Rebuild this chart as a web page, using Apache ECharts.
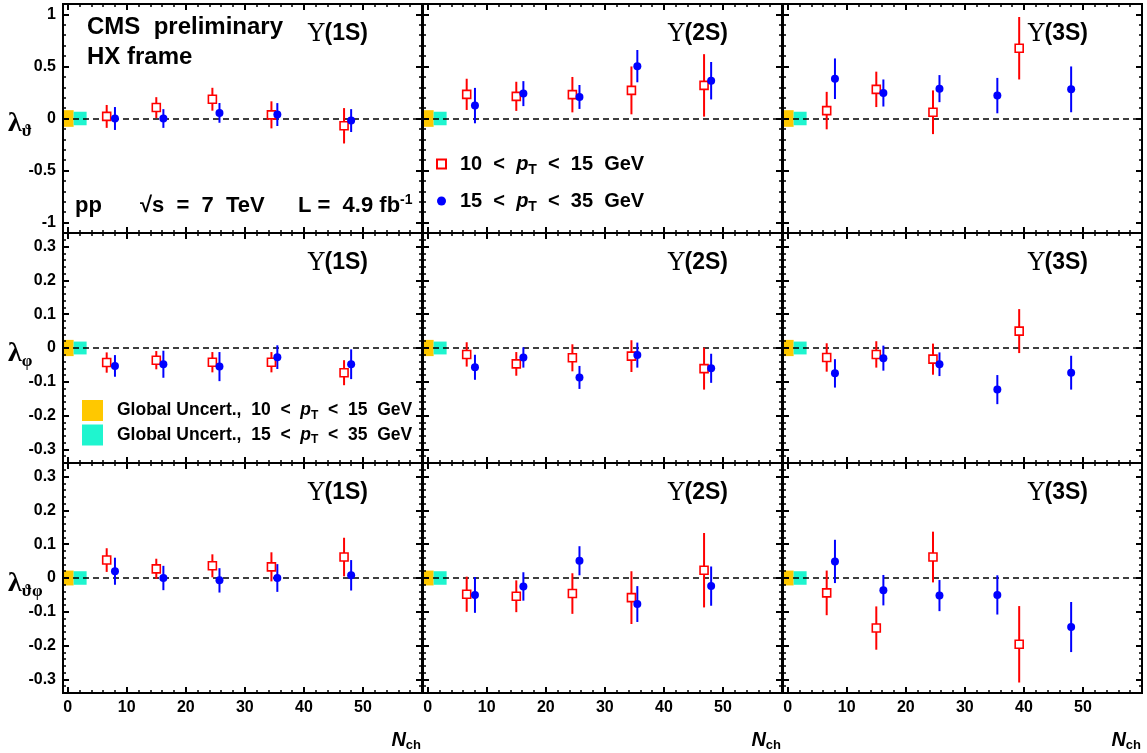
<!DOCTYPE html>
<html>
<head>
<meta charset="utf-8">
<script src="https://cdn.jsdelivr.net/npm/echarts@6/dist/echarts.min.js"></script>
<style>
  html, body { margin: 0; padding: 0; background: #fff; }
  #chart { width: 1147px; height: 753px; }
</style>
</head>
<body>
<div id="chart"></div>
<script>
// N_ch of the points (3S low-pT: last two bins merged)
const redX = [6.6, 15.0, 24.5, 34.5, 46.8];
const redX3S = [6.6, 15.0, 24.6, 39.2];
const blueX = [8.0, 16.2, 25.7, 35.5, 48.0];

// [value, error]
const lthRed1S = [[0.02, 0.11], [0.105, 0.10], [0.185, 0.11], [0.035, 0.13], [-0.07, 0.17]];
const lthBlue1S = [[0.0, 0.11], [0.0, 0.09], [0.054, 0.095], [0.038, 0.11], [-0.02, 0.11]];
const lthRed2S = [[0.232, 0.15], [0.213, 0.14], [0.229, 0.17], [0.27, 0.23], [0.318, 0.30]];
const lthBlue2S = [[0.124, 0.17], [0.239, 0.12], [0.207, 0.115], [0.503, 0.155], [0.363, 0.18]];
const lthRed3S = [[0.076, 0.18], [0.28, 0.17], [0.06, 0.21], [0.675, 0.30]];
const lthBlue3S = [[0.382, 0.195], [0.245, 0.13], [0.287, 0.13], [0.22, 0.17], [0.28, 0.22]];

const lphRed1S = [[-0.043, 0.03], [-0.036, 0.027], [-0.042, 0.03], [-0.042, 0.03], [-0.073, 0.037]];
const lphBlue1S = [[-0.053, 0.032], [-0.048, 0.04], [-0.055, 0.043], [-0.027, 0.035], [-0.048, 0.044]];
const lphRed2S = [[-0.019, 0.036], [-0.047, 0.035], [-0.029, 0.04], [-0.024, 0.047], [-0.061, 0.062]];
const lphBlue2S = [[-0.057, 0.037], [-0.028, 0.03], [-0.087, 0.034], [-0.021, 0.037], [-0.06, 0.043]];
const lphRed3S = [[-0.028, 0.042], [-0.019, 0.039], [-0.033, 0.046], [0.05, 0.065]];
const lphBlue3S = [[-0.075, 0.042], [-0.03, 0.037], [-0.048, 0.035], [-0.123, 0.043], [-0.073, 0.05]];

const ltpRed1S = [[0.053, 0.035], [0.027, 0.03], [0.036, 0.034], [0.033, 0.043], [0.062, 0.057]];
const ltpBlue1S = [[0.02, 0.04], [0.0, 0.036], [-0.007, 0.036], [0.0, 0.041], [0.008, 0.045]];
const ltpRed2S = [[-0.048, 0.052], [-0.054, 0.047], [-0.046, 0.06], [-0.058, 0.078], [0.023, 0.11]];
const ltpBlue2S = [[-0.05, 0.053], [-0.025, 0.042], [0.051, 0.043], [-0.077, 0.053], [-0.024, 0.058]];
const ltpRed3S = [[-0.044, 0.066], [-0.148, 0.064], [0.062, 0.075], [-0.196, 0.113]];
const ltpBlue3S = [[0.049, 0.064], [-0.036, 0.045], [-0.052, 0.046], [-0.05, 0.058], [-0.145, 0.074]];

// global uncertainty half-heights [10-15 GeV, 15-35 GeV]
const globalTheta = [0.08, 0.065];
const globalPhi = [0.024, 0.019];
const globalThetaPhi = [0.022, 0.02];

const states = ['1S', '2S', '3S'];
const xTicks = [0, 10, 20, 30, 40, 50];
const yTicksTheta = [-1, -0.5, 0, 0.5, 1];
const yTicksSmall = [-0.3, -0.2, -0.1, 0, 0.1, 0.2, 0.3];

const X_MIN = -0.8, X_MAX = 60;
const PANEL_LEFT = [63, 423, 783];
const PANEL_TOP = [4, 233, 463];
const PANEL_H = [229, 230, 230];
const PANEL_W = 359;

const RED = '#ff0000', BLUE = '#0000ff', YELLOW = '#ffc800', CYAN = '#1ff5cf';
const SANS = '"Liberation Sans", Arial, Helvetica, sans-serif';
const SERIF = '"DejaVu Serif", "Liberation Serif", serif';
const LSERIF = '"Liberation Serif", "DejaVu Serif", serif';

const rows = [
  { red: [lthRed1S, lthRed2S, lthRed3S], blue: [lthBlue1S, lthBlue2S, lthBlue3S],
    glob: globalTheta, min: -1.1, max: 1.1, major: yTicksTheta, step: 0.1 },
  { red: [lphRed1S, lphRed2S, lphRed3S], blue: [lphBlue1S, lphBlue2S, lphBlue3S],
    glob: globalPhi, min: -0.34, max: 0.34, major: yTicksSmall, step: 0.02 },
  { red: [ltpRed1S, ltpRed2S, ltpRed3S], blue: [ltpBlue1S, ltpBlue2S, ltpBlue3S],
    glob: globalThetaPhi, min: -0.34, max: 0.34, major: yTicksSmall, step: 0.02 }
];

function minorTicks(min, max, step, major) {
  const out = [];
  for (let i = Math.ceil(min / step - 1e-9); i * step <= max + 1e-9; i++) {
    const v = Math.round(i * step * 1000) / 1000;
    if (!major.some(m => Math.abs(m - v) < 1e-9)) out.push(v);
  }
  return out;
}
const xMinor = minorTicks(X_MIN, X_MAX, 2, xTicks);

const labelStyle = { color: '#000', fontSize: 16, fontWeight: 'bold', fontFamily: SANS };

function axis(grid, pos, min, max, values, len, showLabels) {
  return {
    type: 'value', gridIndex: grid, position: pos, min, max, z: 20,
    axisLine: { show: false, onZero: false },
    splitLine: { show: false },
    axisTick: { show: true, inside: true, length: len, customValues: values,
      lineStyle: { color: '#000', width: len > 4 ? 2 : 1.5 } },
    axisLabel: Object.assign({ show: showLabels, customValues: values, margin: 7 }, labelStyle)
  };
}

function errorBars(color) {
  return function (params, api) {
    const x = api.value(0);
    const p1 = api.coord([x, api.value(1)]);
    const p2 = api.coord([x, api.value(2)]);
    return { type: 'line', shape: { x1: p1[0], y1: p1[1], x2: p2[0], y2: p2[1] },
      style: { stroke: color, lineWidth: 2 } };
  };
}

function boxItem(params, api) {
  const h = api.value(2);
  const p0 = api.coord([api.value(0), h]);
  const p1 = api.coord([api.value(1), -h]);
  return { type: 'rect', shape: { x: p0[0], y: p0[1], width: p1[0] - p0[0], height: p1[1] - p0[1] },
    style: { fill: api.visual('color') } };
}

const grids = [], xAxes = [], yAxes = [], series = [];

rows.forEach((row, r) => {
  const yMinor = minorTicks(row.min, row.max, row.step, row.major);
  for (let c = 0; c < 3; c++) {
    const g = r * 3 + c;
    grids.push({ left: PANEL_LEFT[c], top: PANEL_TOP[r], width: PANEL_W, height: PANEL_H[r],
      show: true, borderColor: '#000', borderWidth: 2, z: 20, outerBoundsMode: 'none' });
    xAxes.push(
      axis(g, 'bottom', X_MIN, X_MAX, xTicks, 6, r === 2),
      axis(g, 'bottom', X_MIN, X_MAX, xMinor, 3, false),
      axis(g, 'top', X_MIN, X_MAX, xTicks, 6, false),
      axis(g, 'top', X_MIN, X_MAX, xMinor, 3, false)
    );
    yAxes.push(
      axis(g, 'left', row.min, row.max, row.major, 6, c === 0),
      axis(g, 'left', row.min, row.max, yMinor, 3, false),
      axis(g, 'right', row.min, row.max, row.major, 6, false),
      axis(g, 'right', row.min, row.max, yMinor, 3, false)
    );
    const xi = g * 4, yi = g * 4;
    const rx = c === 2 ? redX3S : redX;
    const red = row.red[c], blue = row.blue[c];
    const common = { xAxisIndex: xi, yAxisIndex: yi, silent: true, animation: false };

    series.push(Object.assign({
      type: 'custom', name: 'globLow', z: 1, renderItem: boxItem,
      itemStyle: { color: YELLOW }, data: [[X_MIN, 1.0, row.glob[0]]]
    }, common));
    series.push(Object.assign({
      type: 'custom', name: 'globHigh', z: 1, renderItem: boxItem,
      itemStyle: { color: CYAN }, data: [[1.0, 3.2, row.glob[1]]]
    }, common));
    series.push(Object.assign({
      type: 'custom', name: 'lowPtErr', z: 8, renderItem: errorBars(RED),
      data: red.map((p, i) => [rx[i], p[0] - p[1], p[0] + p[1]])
    }, common));
    series.push(Object.assign({
      type: 'custom', name: 'highPtErr', z: 8, renderItem: errorBars(BLUE),
      data: blue.map((p, i) => [blueX[i], p[0] - p[1], p[0] + p[1]])
    }, common));
    series.push(Object.assign({
      type: 'scatter', name: 'lowPt', z: 10, symbol: 'rect', symbolSize: 8,
      itemStyle: { color: '#fff', borderColor: RED, borderWidth: 1.6, opacity: 1 },
      data: red.map((p, i) => [rx[i], p[0]]),
      markLine: { silent: true, symbol: 'none', z: 5, animation: false,
        label: { show: false },
        lineStyle: { color: '#000', width: 1.5, type: [6, 4] },
        data: [{ yAxis: 0 }] }
    }, common));
    series.push(Object.assign({
      type: 'scatter', name: 'highPt', z: 11, symbol: 'circle', symbolSize: 8,
      itemStyle: { color: BLUE, opacity: 1 },
      data: blue.map((p, i) => [blueX[i], p[0]])
    }, common));
  }
});

// rich text styles for graphic texts
const RICH = {
  big: { fontFamily: SANS, fontWeight: 'bold', fontSize: 24, fill: '#000' },
  t: { fontFamily: SANS, fontWeight: 'bold', fontSize: 22, fill: '#000' },
  sup: { fontFamily: SANS, fontWeight: 'bold', fontSize: 14, fill: '#000', padding: [0, 0, 12, 0] },
  ups: { fontFamily: SERIF, fontSize: 25, fill: '#000' },
  st: { fontFamily: SANS, fontWeight: 'bold', fontSize: 23, fill: '#000' },
  lam: { fontFamily: LSERIF, fontWeight: 'bold', fontSize: 28, fill: '#000' },
  lsub: { fontFamily: LSERIF, fontWeight: 'bold', fontSize: 17, fill: '#000', padding: [15, 0, 0, 0] },
  n: { fontFamily: SANS, fontWeight: 'bold', fontStyle: 'italic', fontSize: 20, fill: '#000' },
  nsub: { fontFamily: SANS, fontWeight: 'bold', fontSize: 13, fill: '#000', padding: [10, 0, 0, 0] }
};

function text(x, y, str, align) {
  return { type: 'text', x, y, silent: true, z: 30,
    style: { text: str, rich: RICH, align: align || 'left', textAlign: align || 'left',
      verticalAlign: 'middle', textVerticalAlign: 'middle', fill: '#000' } };
}

const graphics = [
  text(87, 27, '{big|CMS  preliminary}'),
  text(87, 57, '{big|HX frame}'),
  text(75, 206, '{t|pp}'),
  text(140, 206, '{t|\u221As  =  7  TeV}'),
  text(298, 206, '{t|L =  4.9 fb}{sup|-1}'),
  text(8, 124, '{lam|\u03bb}{lsub|\u03d1}'),
  text(8, 354, '{lam|\u03bb}{lsub|\u03c6}'),
  text(8, 584, '{lam|\u03bb}{lsub|\u03d1\u03c6}')
];
for (let r = 0; r < 3; r++) {
  for (let c = 0; c < 3; c++) {
    graphics.push(text(PANEL_LEFT[c] + 245, PANEL_TOP[r] + 30, '{ups|\u03a5}{st|(' + states[c] + ')}'));
  }
}
for (let c = 0; c < 3; c++) {
  graphics.push(text(PANEL_LEFT[c] + PANEL_W - 1, 740, '{n|N}{nsub|ch}', 'right'));
}

const LEGEND_LABEL = {
  lowPt: '{g|}{a|10  <  }{p|p}{s|T}{a|  <  15  GeV}',
  highPt: '{g|}{a|15  <  }{p|p}{s|T}{a|  <  35  GeV}',
  globLow: '{g|}{b|Global Uncert.,  10  <  }{q|p}{r|T}{b|  <  15  GeV}',
  globHigh: '{g|}{b|Global Uncert.,  15  <  }{q|p}{r|T}{b|  <  35  GeV}'
};
const LEGEND_RICH = {
  g: { width: 9 },
  a: { fontFamily: SANS, fontWeight: 'bold', fontSize: 20, color: '#000', lineHeight: 26 },
  p: { fontFamily: SANS, fontWeight: 'bold', fontStyle: 'italic', fontSize: 20, color: '#000', lineHeight: 26 },
  s: { fontFamily: SANS, fontWeight: 'bold', fontSize: 14, color: '#000', padding: [12, 0, 0, 0] },
  b: { fontFamily: SANS, fontWeight: 'bold', fontSize: 17.5, color: '#000', lineHeight: 21 },
  q: { fontFamily: SANS, fontWeight: 'bold', fontStyle: 'italic', fontSize: 17.5, color: '#000', lineHeight: 21 },
  r: { fontFamily: SANS, fontWeight: 'bold', fontSize: 12, color: '#000', padding: [10, 0, 0, 0] }
};

const option = {
  backgroundColor: '#fff',
  animation: false,
  grid: grids,
  xAxis: xAxes,
  yAxis: yAxes,
  series,
  graphic: graphics,
  legend: [
    { left: 436, top: 154, padding: 0, orient: 'vertical', itemWidth: 9, itemHeight: 9, itemGap: 14,
      selectedMode: false, data: ['lowPt', 'highPt'],
      formatter: n => LEGEND_LABEL[n], textStyle: { rich: LEGEND_RICH } },
    { left: 82, top: 400, padding: 0, orient: 'vertical', itemWidth: 21, itemHeight: 21, itemGap: 3,
      selectedMode: false,
      data: [{ name: 'globLow', icon: 'rect' }, { name: 'globHigh', icon: 'rect' }],
      formatter: n => LEGEND_LABEL[n], textStyle: { rich: LEGEND_RICH } }
  ]
};

const chart = echarts.init(document.getElementById('chart'), null, { renderer: 'canvas' });
chart.setOption(option);
</script>
</body>
</html>
